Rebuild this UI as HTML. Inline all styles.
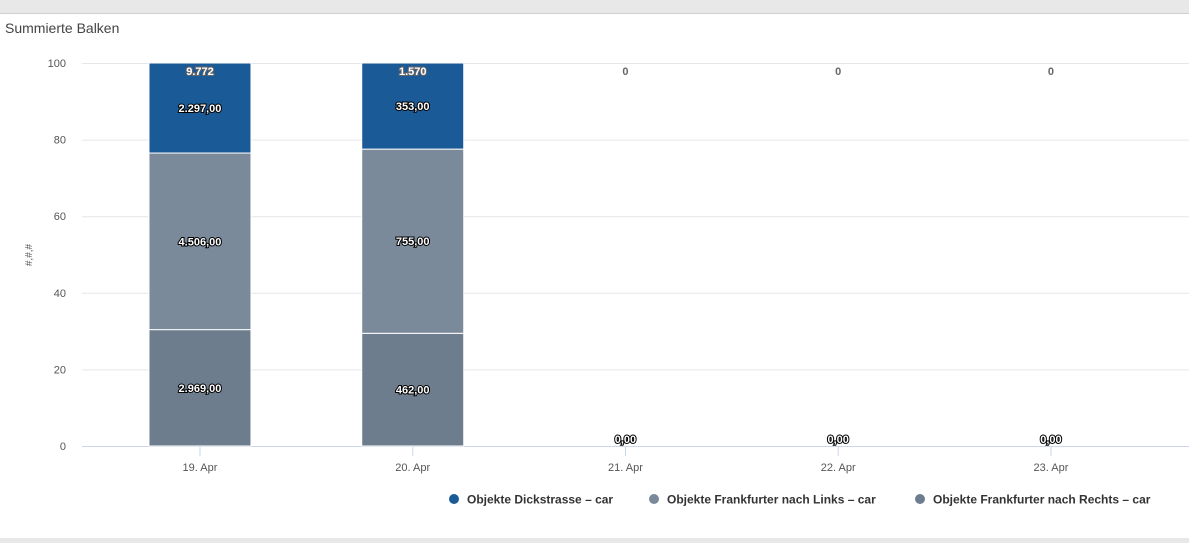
<!DOCTYPE html>
<html><head><meta charset="utf-8"><style>
body{margin:0;width:1189px;height:543px;overflow:hidden;background:#fff;font-family:"Liberation Sans",sans-serif}
</style></head><body>
<svg id="c" width="1189" height="543" xmlns="http://www.w3.org/2000/svg">
<rect x="0" y="0" width="1189" height="13" fill="#e8e8e8"/>
<line x1="0" y1="13.5" x2="1189" y2="13.5" stroke="#d0d0d0"/>
<rect x="0" y="538" width="1189" height="5" fill="#e8e8e8"/>
<text x="5" y="33" font-size="14" fill="#444">Summierte Balken</text>
<text transform="translate(32,255) rotate(-90)" text-anchor="middle" font-size="10" fill="#555">#,#,#</text>
<g id="grid"></g><g id="bars"></g><g id="labels"></g>
<g>
<g><circle cx="454" cy="499" r="5" fill="#1a5a96"/><text x="467" y="503.5" font-size="12" font-weight="bold" fill="#333">Objekte Dickstrasse – car</text></g>
<g><circle cx="654" cy="499" r="5" fill="#7a8a9a"/><text x="667" y="503.5" font-size="12" font-weight="bold" fill="#333">Objekte Frankfurter nach Links – car</text></g>
<g><circle cx="920" cy="499" r="5" fill="#6e7d8e"/><text x="933" y="503.5" font-size="12" font-weight="bold" fill="#333">Objekte Frankfurter nach Rechts – car</text></g>
</g>
</svg>
<script>
const categories=["19. Apr","20. Apr","21. Apr","22. Apr","23. Apr"];
const rechts=[2969,462,0,0,0];
const links=[4506,755,0,0,0];
const dick=[2297,353,0,0,0];
const yTicks=[0,20,40,60,80,100];
const NS="http://www.w3.org/2000/svg";
const top0=63,bot=446,left=93.6,step=212.75,bw=102;
const y=p=>bot-(bot-top0)*p/100;
const x=i=>left+step*(i+0.5);
function mk(t,a,p){const e=document.createElementNS(NS,t);for(const k in a)e.setAttribute(k,a[k]);p.appendChild(e);return e;}
const g=document.getElementById('grid'),b=document.getElementById('bars'),L=document.getElementById('labels');
yTicks.forEach(v=>{
 const l=mk('line',{x1:82,x2:1189,y1:y(v)+0.5,y2:y(v)+0.5,stroke:v===0?'#ccd6eb':'#e6e6e6'},g);
 
 
 const t=mk('text',{x:66,y:y(v)+4,'text-anchor':'end','font-size':11,fill:'#555'},g);t.textContent=v;
 
 
});
const fmt=v=>v.toLocaleString('de-DE',{minimumFractionDigits:2,maximumFractionDigits:2});
const series=[[rechts,'#6e7d8e','rechts'],[links,'#7a8a9a','links'],[dick,'#1a5a96','dick']];
categories.forEach((c,i)=>{
 const tk=mk('line',{x1:x(i),x2:x(i),y1:bot,y2:bot+10,stroke:'#ccd6eb'},g);
 
 
 const t=mk('text',{x:x(i),y:bot+25,'text-anchor':'middle','font-size':11,fill:'#555'},g);t.textContent=c;
 
 
 const tot=rechts[i]+links[i]+dick[i];
 let acc=0;
 series.forEach(([arr,col,nm])=>{
  const v=arr[i];
  if(tot>0){
   const p0=acc/tot*100,p1=(acc+v)/tot*100;
   const r=mk('rect',{x:x(i)-bw/2,y:y(p1),width:bw,height:y(p0)-y(p1),fill:col,stroke:'#fff','stroke-width':1},b);
   
   
   const lt=mk('text',{x:x(i),y:(y(p0)+y(p1))/2+4,'text-anchor':'middle','font-size':11,'font-weight':'bold',fill:'#fff',stroke:'#000','stroke-width':2,'paint-order':'stroke'},L);
   lt.textContent=fmt(v);
   
   
   acc+=v;
  } else if(nm==='rechts'){
   const lt=mk('text',{x:x(i),y:bot-3,'text-anchor':'middle','font-size':11,'font-weight':'bold',fill:'#fff',stroke:'#000','stroke-width':2,'paint-order':'stroke'},L);
   lt.textContent=fmt(0);
   
   
  }
 });
 const st=mk('text',{x:x(i),y:y(100)+12,'text-anchor':'middle','font-size':11,'font-weight':'bold',fill:tot>0?'#fff':'#666',stroke:tot>0?'#666':'none','stroke-width':2,'paint-order':'stroke'},L);
 st.textContent=tot.toLocaleString('de-DE');
 
 
});
</script>
</body></html>
